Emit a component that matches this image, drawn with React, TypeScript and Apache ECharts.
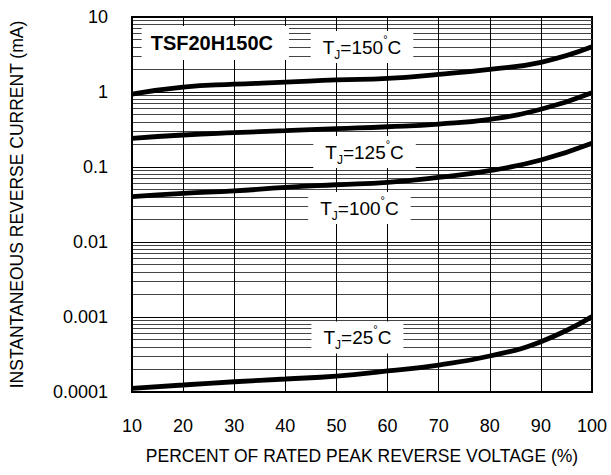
import React, { useEffect, useRef } from 'react';
import * as echarts from 'echarts';

const FONT = "'Liberation Sans', Arial, Helvetica, sans-serif";

// Percent of rated peak reverse voltage
const voltagePct = [10, 20, 30, 40, 50, 60, 70, 80, 90, 100];
const xTickLabels = ['10', '20', '30', '40', '50', '60', '70', '80', '90', '100'];
const yTickLabels = ['0.0001', '0.001', '0.01', '0.1', '1', '10'];

// Instantaneous reverse current (mA)
const tj150 = [0.94, 1.16, 1.27, 1.35, 1.45, 1.52, 1.72, 2.01, 2.49, 4.0];
const tj125 = [0.241, 0.267, 0.287, 0.305, 0.324, 0.344, 0.374, 0.433, 0.588, 0.98];
const tj100 = [0.0402, 0.0446, 0.0479, 0.0536, 0.058, 0.0625, 0.0728, 0.0893, 0.124, 0.207];
const tj25 = [0.000112, 0.000124, 0.000137, 0.000149, 0.000163, 0.000191, 0.000229, 0.000302, 0.000469, 0.00101];

const seriesNames = ['150', '125', '100', '25'];
const seriesValues = [tj150, tj125, tj100, tj25];
// annotation anchors in data space [percent, mA]
const labelAnchors = [
  [55, 3.98],
  [55.5, 0.158],
  [54.5, 0.0284],
  [54.1, 0.000533],
];
const titleText = 'TSF20H150C';
const titleAnchor = [26.3, 4.5];

export default function App() {
  const ref = useRef<HTMLDivElement>(null);

  useEffect(() => {
    if (!ref.current) return;
    const chart = echarts.init(ref.current, undefined, { renderer: 'svg' });

    const tjRich = {
      t: { fontSize: 19, fontFamily: FONT, color: '#000', lineHeight: 28, verticalAlign: 'middle' },
      s: { fontSize: 12, fontFamily: FONT, color: '#000', lineHeight: 28, verticalAlign: 'bottom' },
      d: { fontSize: 11, fontFamily: FONT, color: '#000', lineHeight: 28, verticalAlign: 'top' },
    };

    const series: any[] = seriesValues.map((vals, i) => ({
      type: 'line',
      name: seriesNames[i],
      data: voltagePct.map((x, j) => [x, vals[j]]),
      smooth: true,
      showSymbol: false,
      symbol: 'none',
      lineStyle: { color: '#000', width: 4.8 },
      z: 3,
      markPoint: {
        silent: true,
        symbol: 'rect',
        symbolSize: 1,
        itemStyle: { color: 'rgba(0,0,0,0)' },
        z: 4,
        data: [
          {
            coord: labelAnchors[i],
            label: {
              show: true,
              position: 'inside',
              backgroundColor: '#fff',
              padding: [2, 12, 2, 12],
              formatter: `{t|T}{s|J}{t|=${seriesNames[i]}}{d|°}{t|C}`,
              rich: tjRich,
            },
          },
        ],
      },
    }));

    series.push({
      type: 'line',
      data: [],
      markPoint: {
        silent: true,
        symbol: 'rect',
        symbolSize: 1,
        itemStyle: { color: 'rgba(0,0,0,0)' },
        z: 4,
        data: [
          {
            coord: titleAnchor,
            label: {
              show: true,
              position: 'inside',
              backgroundColor: '#fff',
              padding: [7, 16, 7, 9],
              formatter: titleText,
              fontSize: 20,
              fontWeight: 'bold',
              fontFamily: FONT,
              color: '#000',
            },
          },
        ],
      },
    });

    chart.setOption({
      animation: false,
      backgroundColor: '#fff',
      textStyle: { fontFamily: FONT },
      grid: {
        left: 127,
        right: 19,
        top: 17,
        bottom: 83,
        show: true,
        borderColor: '#000',
        borderWidth: 2,
        backgroundColor: 'transparent',
      },
      xAxis: {
        type: 'value',
        min: 10,
        max: 100,
        interval: 10,
        name: 'PERCENT OF RATED PEAK REVERSE VOLTAGE (%)',
        nameLocation: 'middle',
        nameGap: 55,
        nameTextStyle: { fontSize: 17.5, color: '#000', fontFamily: FONT },
        axisLine: { show: false },
        axisTick: { show: false },
        axisLabel: {
          fontSize: 18,
          color: '#000',
          margin: 25,
          fontFamily: FONT,
          formatter: (v: number) => xTickLabels[voltagePct.indexOf(Math.round(v))] ?? '',
        },
        splitLine: { show: true, lineStyle: { color: '#000', width: 1 } },
      },
      yAxis: {
        type: 'log',
        logBase: 10,
        min: 0.0001,
        max: 10,
        name: 'INSTANTANEOUS REVERSE CURRENT (mA)',
        nameLocation: 'middle',
        nameGap: 106,
        nameTextStyle: { fontSize: 17.5, color: '#000', fontFamily: FONT },
        axisLine: { show: false },
        axisTick: { show: false },
        axisLabel: {
          fontSize: 18,
          color: '#000',
          margin: 24,
          fontFamily: FONT,
          formatter: (v: number) => yTickLabels[Math.round(Math.log10(v)) + 4] ?? '',
        },
        splitLine: { show: true, lineStyle: { color: '#000', width: 1 } },
        minorTick: { show: false, splitNumber: 9 },
        minorSplitLine: { show: true, lineStyle: { color: '#444', width: 1 } },
      },
      series,
    });

    return () => chart.dispose();
  }, []);

  return (
    <div
      ref={ref}
      style={{ position: 'fixed', left: 0, top: 0, width: 611, height: 475 }}
    />
  );
}
